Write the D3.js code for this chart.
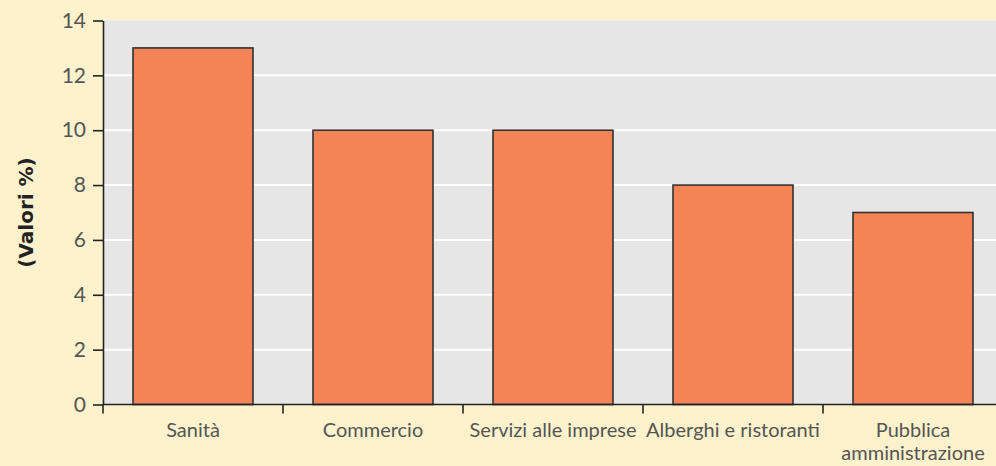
<!DOCTYPE html>
<html>
<head>
<meta charset="utf-8">
<script src="https://cdn.jsdelivr.net/npm/d3@7"></script>
<style>
  body { margin: 0; background: #fdf2cc; }
  svg { display: block; }
</style>
</head>
<body>
<div id="chart"></div>
<script>
// data
const categories = ["Sanità", "Commercio", "Servizi alle imprese", "Alberghi e ristoranti", "Pubblica amministrazione"];
const values = [13, 10, 10, 8, 7];
const yTicks = [0, 2, 4, 6, 8, 10, 12, 14];

const width = 996, height = 466;
const margin = {top: 20.5, left: 103, bottom: 61.5};

const svg = d3.select("#chart").append("svg")
    .attr("width", width)
    .attr("height", height);

svg.append("rect").attr("width", width).attr("height", height).attr("fill", "#fdf2cc");

let x = d3.scaleBand()
    .domain(categories)
    .range([margin.left, margin.left + 900])
    .paddingInner(1 / 3)
    .paddingOuter(1 / 6);

let y = d3.scaleLinear()
    .domain([0, 14])
    .range([height - margin.bottom, margin.top]);

// plot background
svg.append("rect")
    .attr("x", margin.left)
    .attr("y", y(14))
    .attr("width", width - margin.left)
    .attr("height", y(0) - y(14))
    .attr("fill", "#e6e6e6");

// gridlines
svg.selectAll(".grid")
    .data(yTicks.filter(d => d > 0 && d < 14))
    .enter().append("line")
    .attr("x1", margin.left)
    .attr("x2", width)
    .attr("y1", d => y(d))
    .attr("y2", d => y(d))
    .attr("stroke", "#ffffff")
    .attr("stroke-width", 2);

// bars
svg.selectAll(".bar")
    .data(values)
    .enter().append("rect")
    .attr("x", (d, i) => x(categories[i]))
    .attr("y", d => y(d))
    .attr("width", x.bandwidth())
    .attr("height", d => y(0) - y(d))
    .attr("fill", "#f48456")
    .attr("stroke", "#333")
    .attr("stroke-width", 1.6);

// y axis
let yAxis = svg.append("g")
    .attr("transform", "translate(" + margin.left + ",0)")
    .call(d3.axisLeft(y).tickValues(yTicks).tickSize(10).tickPadding(7).tickSizeOuter(0));
yAxis.select(".domain").attr("stroke", "#222").attr("stroke-width", 1.6);
yAxis.selectAll(".tick line").attr("stroke", "#222").attr("stroke-width", 1.6);
yAxis.selectAll("text")
    .attr("fill", "#555")
    .style("font-family", "Lato, 'Open Sans', sans-serif")
    .style("font-size", "21px");

// x axis (labels at centers, ticks at band edges)
let xAxis = svg.append("g")
    .attr("transform", "translate(0," + y(0) + ")")
    .call(d3.axisBottom(x).tickSize(0).tickPadding(18).tickSizeOuter(0));
xAxis.select(".domain").remove();
xAxis.selectAll("text")
    .attr("fill", "#555")
    .style("font-family", "Lato, 'Open Sans', sans-serif")
    .style("font-size", "20px")
    .each(function(d) {
        let words = d.split(" ");
        if (d === "Pubblica amministrazione") {
            let t = d3.select(this).text(null);
            t.append("tspan").attr("x", 0).attr("dy", "0.71em").text(words[0]);
            t.append("tspan").attr("x", 0).attr("dy", "1.15em").text(words[1]);
        }
    });

svg.append("line")
    .attr("x1", margin.left).attr("x2", width)
    .attr("y1", y(0)).attr("y2", y(0))
    .attr("stroke", "#222").attr("stroke-width", 1.6);

let step = x.step();
svg.selectAll(".xtick")
    .data(categories)
    .enter().append("line")
    .attr("x1", d => x(d) - step * x.paddingInner() / 2)
    .attr("x2", d => x(d) - step * x.paddingInner() / 2)
    .attr("y1", y(0))
    .attr("y2", y(0) + 9)
    .attr("stroke", "#222")
    .attr("stroke-width", 1.6);

// y label
svg.append("text")
    .attr("transform", "translate(26," + y(7) + ") rotate(-90)")
    .attr("text-anchor", "middle")
    .attr("dy", "0.35em")
    .attr("fill", "#222")
    .style("font-family", "'DejaVu Sans', sans-serif")
    .style("font-weight", "bold")
    .style("font-size", "20px")
    .text("(Valori %)");
</script>
</body>
</html>
